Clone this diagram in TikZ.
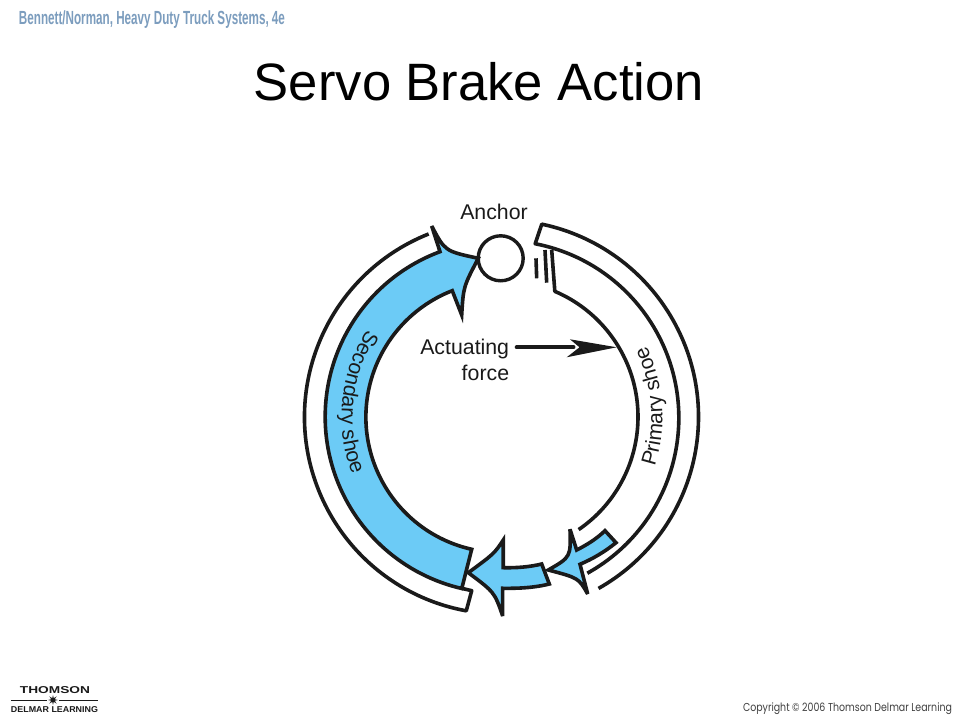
\documentclass[tikz,border=0pt]{standalone}
\usepackage{fontspec}
\usepackage{graphicx}
\setmainfont{Liberation Sans}
\newfontfamily\copyfont{Poppins}
\usetikzlibrary{decorations.text,shapes.geometric}
\definecolor{shoeblue}{HTML}{6CCBF6}
\definecolor{ink}{HTML}{1A1A1A}
\definecolor{headblue}{HTML}{7C9DBE}
\tikzset{
  x=1pt,y=1pt,
  part/.style={draw=ink,line width=3.6pt,line join=round},
  filledpart/.style={part,fill=shoeblue,line join=miter,miter limit=5},
  lbl/.style={font=\fontsize{21.3}{25}\selectfont,text=ink,inner sep=0pt},
}
\begin{document}
\begin{tikzpicture}
\useasboundingbox[fill=white] (-501.5,-302) rectangle (457.5,417);

% header, title, footer
\node[inner sep=0pt,text=headblue] (header) at (-349.5,397) {\resizebox{266pt}{\height}{\fontsize{19}{22}\selectfont\bfseries Bennett/Norman, Heavy Duty Truck Systems, 4e}};
\node[inner sep=0pt,anchor=base,text=black,font=\fontsize{52.6}{60}\selectfont] (title) at (-22.5,316) {Servo Brake Action};
\node[inner sep=0pt,text=ink] (thomson) at (-446.5,-273.5) {\resizebox{70pt}{\height}{\fontsize{10}{12}\selectfont\bfseries THOMSON}};
\node[inner sep=0pt,text=ink] (delmar) at (-447,-293) {\resizebox{87pt}{\height}{\fontsize{8.5}{10}\selectfont\bfseries DELMAR LEARNING}};
\node[star,star points=8,star point ratio=2.6,fill=ink,inner sep=0pt,minimum size=10pt] (logostar) at (-448.5,-283) {};
\coordinate (logoL) at (-490.5,-283);
\coordinate (logoR) at (-403.5,-283);
\draw[ink,line width=.9pt] (logoL) -- (logostar) -- (logoR);
\node[inner sep=0pt,text=black!75] (copy) at (346,-292) {\resizebox{209pt}{\height}{\copyfont\fontsize{11.5}{14}\selectfont Copyright © 2006 Thomson Delmar Learning}};

% secondary lining
\draw[part] (111.7:197) arc[start angle=111.7,end angle=259.7,radius=197] -- (-29.8,-173.7) -- (-39.8,-171.3);

% secondary shoe with arrowhead
\path[filledpart] (-61.5,165.3) arc[start angle=110.4,end angle=257,radius=176.2]
  -- (-29.8,-132.3) arc[start angle=257.3,end angle=111.3,radius=135.6]
  -- (-39.8,102) .. controls (-38.1,130.25) .. (-23.2,158.7)
  .. controls (-56.5,165.8) .. (-69.8,191) -- cycle;

% anchor
\node[circle,draw=ink,line width=3.4pt,minimum size=45pt,inner sep=0pt] (anchor) at (-0.8,158.7) {};

% primary lining and shoe
\draw[part] (-60.5:197) arc[start angle=-60.5,end angle=78.2,radius=197] -- (79:176.5) arc[start angle=79,end angle=-61,radius=177.5];
\draw[part] (-55.6:136.5) arc[start angle=-55.6,end angle=67,radius=136.5] -- (50.2,167);
\draw[part] (34.5,158.7) -- (35.2,138.7);
\draw[part] (43.5,167) -- (45.2,134.3);

% transfer arrows
\path[filledpart] (-33.2,-155.7) .. controls (-7.3,-136.65) .. (1.8,-123) -- (1.8,-150.7)
  .. controls (15,-151) and (28,-150) .. (40.2,-147) -- (47.8,-167)
  .. controls (32,-171) and (15,-171.5) .. (1.2,-171.3) -- (1.2,-199)
  .. controls (-7,-175.25) .. cycle;
\path[filledpart] (46.8,-153) .. controls (69.35,-140) .. (68.5,-112.3) -- (75.2,-133)
  .. controls (85,-128) and (95,-122) .. (103.5,-113.7) -- (114.5,-125.7)
  .. controls (103,-135) and (91,-142) .. (78.5,-147.3) -- (86.2,-177)
  .. controls (77.1,-161) .. cycle;

% actuating force
\node[lbl,anchor=base east] (actuating) at (7.8,62) {Actuating};
\node[lbl,anchor=base east] (force) at (7.8,36.5) {force};
\coordinate (forcetail) at (15.2,69.7);
\coordinate (forcetip) at (115.2,69.7);
\draw[ink,line width=4pt,line cap=round] (forcetail) -- (72,69.7);
\fill[ink] (forcetip) -- (68.5,77.7) -- (78,69.7) -- (65.2,59.7) -- cycle;

% labels
\node[lbl] (anchorlabel) at (-7.5,205.5) {Anchor};
\path[decorate,decoration={text along path,text align=center,text={|\fontsize{21}{25}\selectfont\color{ink}|Secondary shoe}}]
  (144:160) arc[start angle=144,end angle=204,radius=160];
\path[decorate,decoration={text along path,text align=center,text={|\fontsize{21}{25}\selectfont\color{ink}|Primary shoe}}]
  (-20:161) arc[start angle=-20,end angle=28,radius=161];
\end{tikzpicture}
\end{document}
